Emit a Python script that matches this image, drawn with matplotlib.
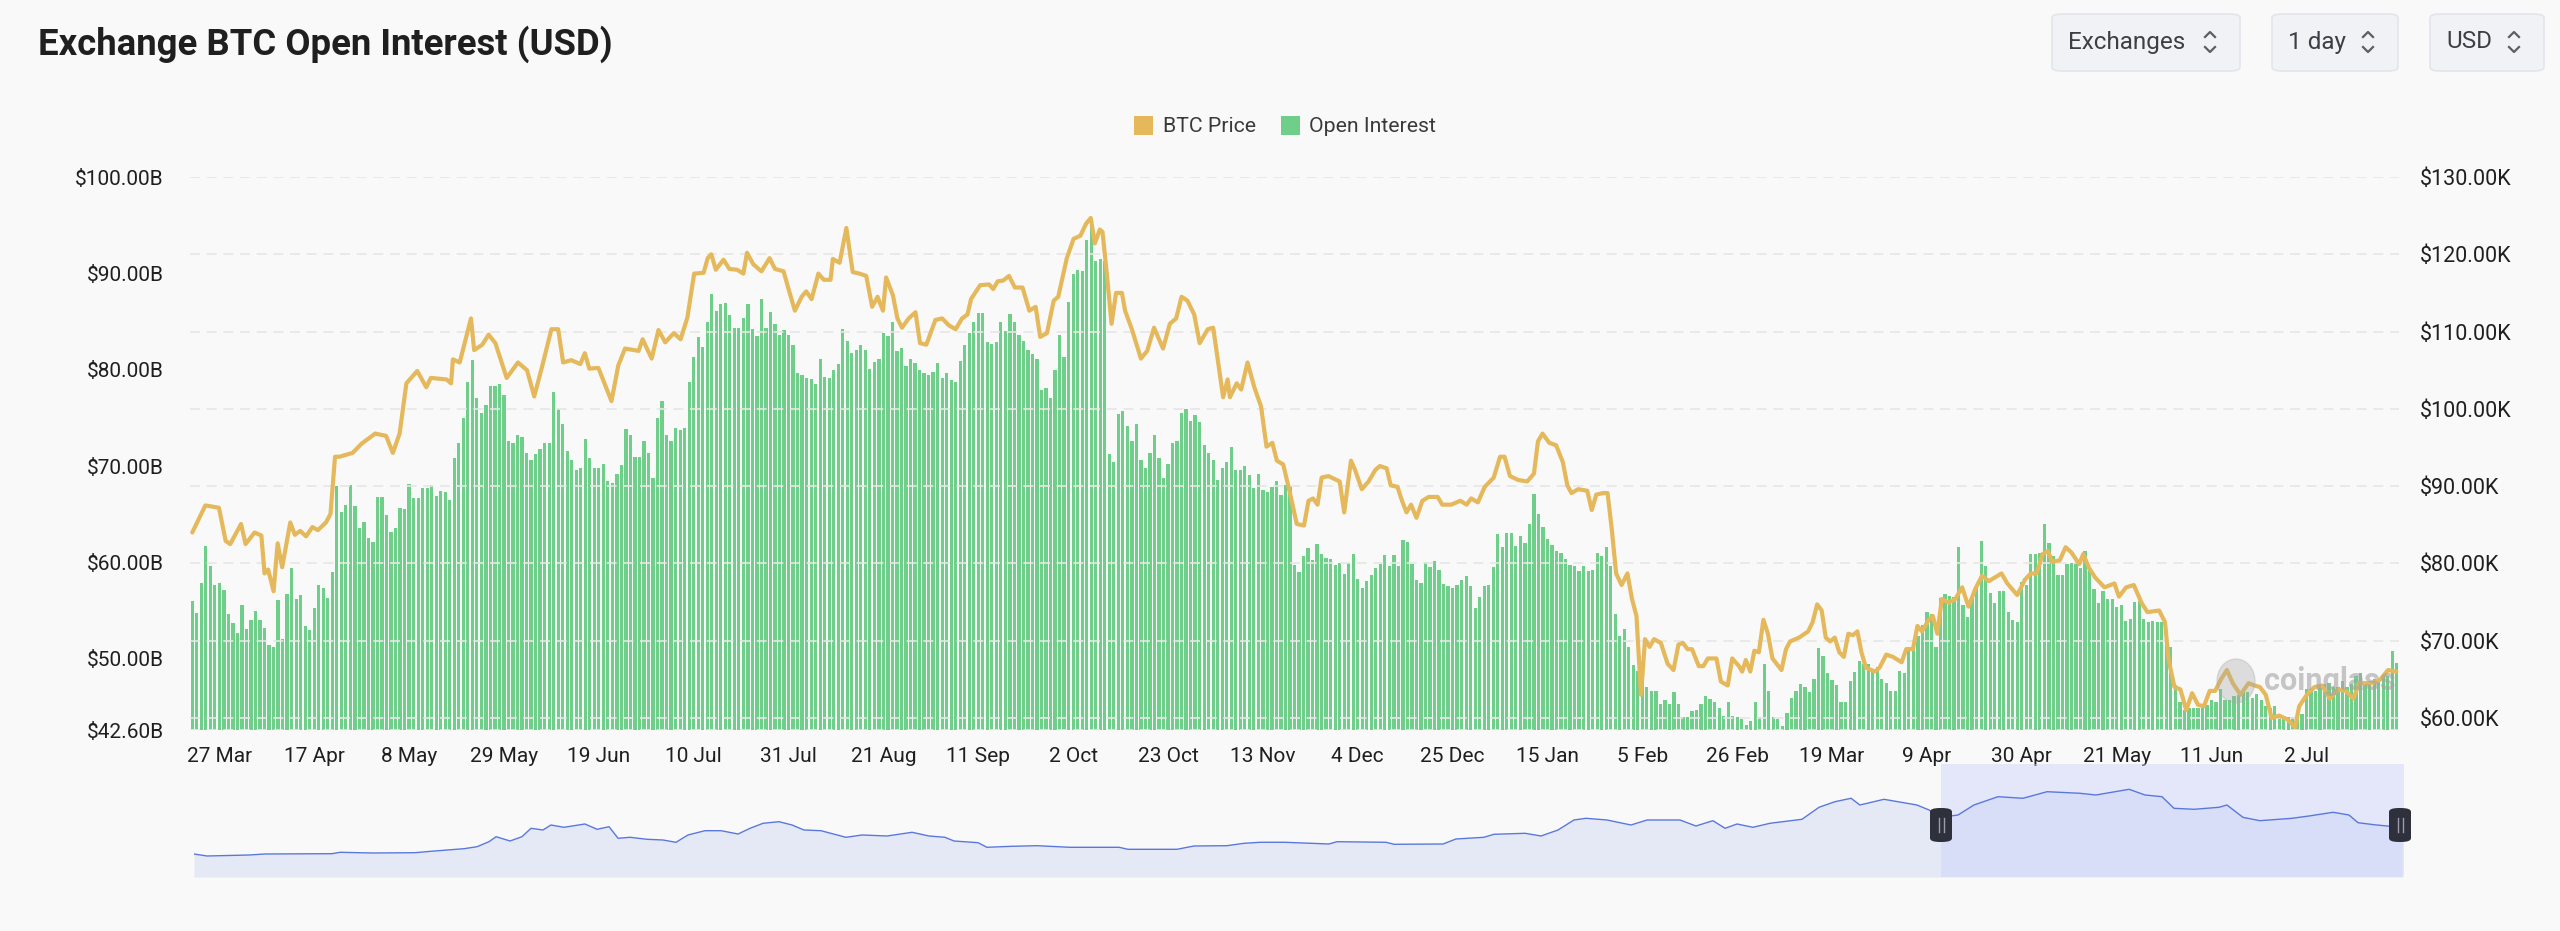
import matplotlib
matplotlib.use("Agg")
import matplotlib.pyplot as plt
from matplotlib.patches import FancyBboxPatch, Rectangle, Ellipse
from matplotlib.lines import Line2D
import numpy as np

W, H = 2560, 931
plt.rcParams['font.family'] = ['Roboto', 'DejaVu Sans']

# ---- data ----
# daily open interest, billions USD, from 21 Mar 2025
oi_a = [56.0, 54.7, 57.9, 61.7, 59.6, 57.7, 57.9, 57.1, 54.6, 53.7, 52.7, 55.6, 53.1, 54.0, 55.0, 54.0,
        53.2, 51.4, 51.2, 56.1, 52.0, 56.7, 59.4, 56.2, 56.6, 53.4, 53.0, 55.3, 57.6, 57.3, 56.3, 59.0,
        67.9, 65.2, 66.0, 68.0, 65.9, 63.6, 64.2, 62.5, 62.1, 66.8, 66.8, 64.9, 63.2, 63.6, 65.6, 65.5,
        68.1, 66.7, 66.7, 67.7, 67.7, 68.0, 66.9, 67.4, 67.3, 66.5, 70.8, 72.4, 75.0, 78.7, 81.0, 77.1,
        75.5, 76.3, 78.3, 78.3, 78.5, 77.4, 72.6, 72.4, 73.2, 73.0, 71.4, 70.6, 71.2, 71.8, 72.4, 72.4,
        77.7, 75.9, 74.4, 71.6, 70.6, 69.6, 69.8, 72.8, 70.8, 69.8, 69.8, 70.2, 68.4, 68.2, 69.2, 70.1,
        73.8, 73.2, 70.9, 70.9, 72.6, 71.4]
oi_b = [68.8, 75.0, 76.7, 73.2, 72.6, 73.9, 73.7, 73.9, 78.7, 81.3, 83.4, 82.4, 85.0, 87.9, 86.1, 86.8,
        86.9, 85.7, 84.3, 84.3, 85.4, 86.8, 84.2, 83.5, 87.3, 84.3, 86.0, 84.7, 83.6, 84.1, 83.6, 82.6,
        79.7, 79.5, 79.1, 79.0, 78.5, 81.1, 79.2, 79.1, 80.0, 80.6, 84.2, 83.0, 81.7, 82.0, 82.6,
        82.0, 80.1, 80.8, 81.1, 83.8, 83.5, 84.9, 81.9, 82.3, 80.4, 81.1, 80.7, 80.0, 79.7, 79.5, 79.8,
        80.7, 79.1, 79.7, 78.9, 78.7, 80.9, 82.6, 83.8, 84.9, 85.9, 85.9, 82.9, 82.7, 82.9, 84.9, 84.0,
        85.8, 84.9, 83.6, 83.0, 82.0, 81.6, 81.1, 77.9, 78.1, 77.1, 80.0, 83.6, 81.3, 87.0, 89.9, 90.3,
        90.2, 93.5, 95.3, 91.3, 91.5, 91.3, 71.2, 70.4, 75.4, 75.7, 74.2, 72.6, 74.4, 70.6, 69.8, 71.4,
        73.2, 70.8, 68.8, 70.2, 72.4, 72.6, 75.5, 75.9, 74.7, 75.3, 74.6, 72.2, 71.4, 70.6, 68.6,
        69.8, 70.4, 72.0, 69.6, 69.6, 70.0, 69.1, 67.7, 69.2, 67.5, 67.3, 67.8, 68.4, 67.0, 68.0, 67.8,
        59.7, 59.0, 60.7, 61.5, 60.2, 61.9, 60.9, 60.5, 60.3, 59.7, 59.9, 58.8, 59.9]
oi_c = [60.9, 58.3, 57.3, 58.1, 58.7, 59.4, 59.8, 60.8, 59.6, 60.8, 59.6, 62.3, 62.1, 59.8, 58.2, 57.9,
        60.0, 59.5, 60.1, 59.2, 57.8, 57.5, 57.3, 57.6, 58.2, 58.6, 57.5, 55.3, 56.4, 57.5, 57.6, 59.5,
        62.9, 61.6, 63.0, 63.0, 61.7, 62.7, 62.0, 64.0, 67.1, 65.0, 63.7, 62.4, 61.8, 61.2, 61.0,
        60.4, 59.7, 59.6, 59.1, 59.6, 59.1, 59.2, 61.0, 60.7, 61.6, 59.6, 54.6, 52.4, 53.1, 51.2, 49.3,
        48.7, 48.7, 47.1, 46.6, 46.6, 45.3, 45.7, 45.3, 46.5, 45.3, 43.9, 44.0, 44.6, 44.7, 45.3, 46.1,
        45.8, 45.5, 44.9, 44.1, 45.5, 44.1, 43.9, 43.7, 43.1, 43.5, 45.5, 43.9, 49.5, 46.7, 43.9, 43.7,
        43.0, 44.4, 45.9, 46.7, 47.4, 47.1, 46.5, 47.9, 51.1, 50.3, 48.5, 47.8, 47.3, 45.5, 45.5, 47.7,
        48.6, 49.8, 49.5, 49.5, 48.6, 49.1, 47.9, 47.5, 46.7, 46.7, 48.7, 48.5, 51.2, 51.4, 52.4,
        53.5, 54.8, 54.6, 51.2, 56.3, 56.7, 56.5, 56.4, 61.6, 55.6, 54.3, 56.3, 57.4, 62.2, 59.6, 56.8,
        55.8]
oi_d = [57.0, 57.0, 54.8, 54.0, 53.8, 58.0, 57.6, 60.9, 60.9, 61.0, 64.0, 62.0, 60.7, 58.7, 58.7, 59.8,
        59.9, 59.9, 59.4, 61.2, 59.2, 57.2, 55.8, 57.0, 56.2, 56.2, 55.4, 55.6, 53.9, 54.1, 55.9, 56.0,
        54.1, 53.8, 53.9, 53.8, 53.8, 52.2, 51.2, 47.3, 45.5, 44.7, 44.9, 44.9, 44.9, 44.9, 45.2, 45.7,
        45.5, 46.9, 45.7, 45.7, 46.1, 46.2, 46.5, 46.5, 45.9, 46.3, 45.7, 45.1, 44.9, 45.1, 44.0, 43.9,
        43.9, 44.0, 44.6, 44.3, 46.9, 46.7, 46.7, 47.1, 47.4, 47.5, 47.1, 47.1, 47.7, 47.1, 47.4, 48.2,
        48.5, 47.5, 47.7, 47.9, 47.9, 48.1, 48.2, 50.8, 49.6]
open_interest = oi_a + oi_b + oi_c + oi_d

# BTC price readings: day offset from 21 Mar 2025, thousands USD
price_day = [0, 2.9, 5.9, 7.4, 8.4, 10.8, 11.8, 13.8, 15.3, 16, 16.8, 18, 18.9, 19.9, 21.7, 22.7, 23.9,
             25.2, 26.6, 27.8, 29.6, 30.6, 31.6, 32.6, 35.5, 37.5, 40.5, 42.9, 44.4, 45.9, 47.4, 49.8,
             51.8, 52.8, 56.3, 57.3, 57.7, 59.2, 61.7, 62.4, 64.2, 65.6, 67.1, 69.6, 72.1, 74.1, 75.7,
             77.5, 79.5, 81, 82.1, 83.9, 85.9, 86.9, 87.9, 89.9, 92.8, 94.3, 95.8, 98.8, 99.7, 101.7,
             103.2, 104.7, 106.6, 108.1, 109.6, 111.1, 113.2, 114.1, 114.9, 115.9, 117.6, 118.9, 120.6,
             122.0, 122.8, 124.2, 126, 127.8, 129, 130.9, 131.9, 133.4, 134.9, 135.9, 137.1, 138.6,
             139.8, 141.3, 141.8, 143.3, 144.8, 146.2, 147.7, 149.2, 150.5, 151.7, 152.9, 153.6, 155.1,
             156.1, 157.1, 158.6, 160.1, 161.1, 162.5, 164.5, 166, 167.5, 169, 170.4, 171.6, 172.4,
             174.4, 176.4, 177.3, 178.3, 179.5, 180.8, 182.1, 183.8, 185.3, 186.7, 187.7, 189.2, 190.7,
             191.7, 193.6, 195.1, 196.6, 197.9, 198.9, 199.8, 200.9, 201.5, 202.5, 203.5, 204.5, 205.8,
             206.5, 208, 210, 211.4, 212.9, 214.9, 216.4, 217.8, 219, 220.3, 221.8, 223, 224.8, 226,
             226.9, 228.2, 229.2, 229.7, 231.2, 232.2, 233.6, 235.1, 236.6, 237.8, 239.1, 240.1, 241.5,
             243, 244.5, 246.1, 247.1, 248.1, 249.1, 250, 251.5, 254, 255, 256.5, 257.4, 258.9, 260.4,
             261.9, 262.9, 264.4, 265.3, 266.8, 267.8, 268.8, 269.8, 271, 272.3, 273.7, 275.7, 276.7,
             278.7, 280.7, 282.1, 283.1, 284.6, 286.1, 288.1, 289.5, 290.5, 291.7, 293.5, 295.5, 297,
             297.9, 298.9, 300.4, 301.9, 303.4, 304.4, 305.3, 306.8, 308.8, 309.8, 310.8, 312.3, 313.3,
             314.2, 315.2, 316.4, 317.7, 318.7, 319.7, 320.7, 321.6, 322.6, 323.6, 325.1, 326.6, 327.9,
             329, 330, 331, 332, 333.5, 334.5, 335.5, 337.4, 338.4, 339.9, 340.9, 342.4, 343.1, 343.9,
             344.9, 345.8, 346.8, 347.8, 348.8, 349.8, 351.8, 352.8, 353.7, 355.7, 357.7, 358.7, 359.7,
             360.7, 361.6, 362.6, 363.6, 364.6, 365.6, 366.6, 367.6, 368.6, 369.5, 370.5, 372.5, 373.5,
             375, 376.5, 378.4, 379.4, 380.9, 381.9, 382.9, 384.4, 385.3, 386.3, 387.3, 388.8, 390.3,
             391.8, 393.2, 394.7, 396.2, 397.7, 400.5, 401.8, 404, 405.7, 407, 408.3, 409.6, 410.8,
             411.7, 413.4, 414.7, 416, 417.7, 418.6, 419.9, 421.2, 423.3, 424.6, 425.5, 426.5, 428.1,
             429.8, 431.5, 432.8, 435.4, 436.7, 437.5, 438.8, 440.1, 441.4, 442.7, 444, 445.3, 446.6,
             447.8, 449.1, 450.4, 451.7, 453.4, 455.2, 456.5, 457.7, 459, 460.3, 462, 463.8, 465.5,
             466.4, 468.1, 469.8, 471.5, 473.2, 475, 476.7, 478.4, 479.7, 481.4, 482.7, 484.4, 486.1,
             487.9]
price_k = [84.0, 87.5, 87.2, 82.9, 82.5, 85.1, 82.5, 84.0, 83.6, 78.7, 79.2, 76.4, 82.6, 79.5, 85.3, 83.7,
           84.2, 83.5, 84.7, 84.3, 85.3, 86.4, 93.8, 93.8, 94.3, 95.5, 96.8, 96.5, 94.3, 96.8, 103.3,
           104.9, 102.8, 104.0, 103.8, 103.3, 106.4, 106.0, 111.7, 107.6, 108.3, 109.6, 108.5, 104.0,
           106.0, 105.0, 101.6, 105.6, 110.3, 110.3, 106.0, 106.3, 105.8, 107.2, 105.2, 105.3, 101.0,
           105.6, 107.8, 107.5, 109.0, 106.5, 110.2, 108.6, 109.8, 109.0, 111.8, 117.5, 117.6, 119.5,
           120.0, 118.0, 119.3, 118.1, 118.0, 117.5, 120.2, 118.7, 117.8, 119.5, 118.1, 117.8, 115.7,
           112.7, 114.5, 115.2, 114.2, 117.5, 116.7, 116.7, 119.4, 118.9, 123.4, 117.7, 117.5, 117.2,
           113.2, 114.5, 112.7, 117.0, 114.7, 111.7, 110.5, 111.7, 112.5, 108.5, 108.3, 111.5, 111.7,
           110.8, 110.3, 111.7, 112.2, 114.2, 116.0, 116.1, 115.5, 116.5, 116.6, 117.2, 115.7, 115.7,
           112.7, 113.2, 109.3, 109.8, 114.0, 114.5, 119.5, 122.0, 122.4, 124.0, 124.7, 121.4, 123.2,
           122.9, 117.2, 111.0, 115.0, 115.0, 112.7, 110.3, 106.5, 107.5, 110.5, 107.8, 111.0, 111.7,
           114.5, 114.0, 112.2, 108.5, 110.3, 110.5, 106.8, 101.5, 103.8, 101.5, 103.3, 102.5, 106.0,
           102.8, 100.3, 95.1, 95.6, 93.3, 92.8, 89.1, 85.1, 84.9, 88.1, 88.4, 87.6, 91.1, 91.3, 90.6,
           86.6, 93.3, 92.1, 89.6, 90.6, 92.1, 92.6, 92.3, 90.1, 89.9, 88.1, 86.6, 87.6, 85.9, 88.1,
           88.6, 88.6, 87.6, 87.6, 88.1, 87.6, 88.4, 87.9, 89.9, 91.1, 93.8, 93.8, 91.3, 90.8, 90.6,
           91.6, 95.8, 96.8, 95.6, 95.3, 93.1, 90.1, 89.1, 89.6, 89.4, 86.9, 88.9, 89.1, 89.1, 84.6,
           78.7, 77.2, 78.7, 75.4, 73.2, 63.0, 70.2, 69.2, 70.2, 69.7, 67.0, 66.2, 69.5, 69.7, 68.9,
           68.9, 66.7, 66.7, 67.7, 67.7, 64.7, 64.2, 67.7, 66.7, 66.0, 67.5, 66.0, 68.7, 68.5, 72.7,
           70.9, 67.7, 66.2, 68.9, 69.9, 70.4, 71.2, 72.4, 74.7, 73.9, 70.4, 69.9, 70.4, 68.5, 67.9,
           70.9, 70.7, 71.2, 68.5, 66.5, 66.0, 66.5, 68.2, 67.9, 67.2, 68.9, 68.9, 71.9, 71.2, 72.7,
           73.2, 70.9, 75.4, 74.9, 75.4, 76.9, 74.4, 76.7, 78.4, 77.7, 78.7, 77.4, 75.9, 77.9, 78.7,
           78.7, 81.2, 81.6, 80.2, 80.4, 82.1, 81.4, 79.9, 81.2, 79.4, 78.2, 76.9, 77.2, 77.4, 75.7,
           76.9, 77.2, 74.9, 73.7, 73.9, 72.4, 67.5, 64.0, 63.7, 61.0, 63.2, 61.7, 61.5, 63.5, 63.5,
           65.0, 66.2, 64.5, 63.0, 64.5, 64.2, 64.0, 63.0, 60.0, 60.3, 59.8, 58.8, 61.5, 63.0, 64.0,
           64.2, 62.5, 63.7, 63.5, 62.5, 64.5, 64.5, 64.5, 65.0, 66.2, 66.0]

tick_labels = ['27 Mar', '17 Apr', '8 May', '29 May', '19 Jun', '10 Jul', '31 Jul', '21 Aug', '11 Sep',
               '2 Oct', '23 Oct', '13 Nov', '4 Dec', '25 Dec', '15 Jan', '5 Feb', '26 Feb', '19 Mar',
               '9 Apr', '30 Apr', '21 May', '11 Jun', '2 Jul']
tick_days = [6 + 21 * i for i in range(len(tick_labels))]

oi_ticks = [42.6, 50, 60, 70, 80, 90, 100]
price_ticks = [60, 70, 80, 90, 100, 110, 120, 130]

# navigator series: position along the full history (per mille) and relative height
nav_t = [0, 5.9, 24.9, 32.1, 62.4, 66.1, 81, 100, 107.2, 122.2, 128.1, 133.5, 136.7, 143, 148.4, 152.5,
         157.9, 161.5, 167.4, 176.9, 182.4, 187.8, 191.9, 197.3, 205, 212.2, 218.1, 223.5, 231.2, 238.5,
         246.2, 251.6, 257.5, 264.7, 270.6, 276, 283.7, 295, 302.3, 313.6, 324.9, 332.6, 339.8, 343.9,
         354.8, 358.8, 370.1, 381.4, 396.4, 418.6, 422.6, 444.8, 452.5, 467.4, 475.1, 482.4, 493.7,
         513.6, 517.2, 539.4, 543, 565.2, 571, 583.7, 588.2, 602.3, 609.5, 617.2, 624.4, 629.9, 639.4,
         650.2, 657.5, 672.4, 679.6, 687.3, 692.8, 698.2, 705.4, 713.1, 727.6, 735.3, 742.5, 749.8,
         753.8, 764.7, 779.6, 785.1, 790.5, 798.2, 805.4, 816.3, 827.6, 838.5, 853.4, 860.6, 875.6,
         882.8, 890.5, 895.9, 905, 916.3, 919.9, 927.1, 934.8, 949.3, 957, 967.9, 975.1, 979.2, 986.4,
         993.7, 999.1]
nav_vals = [23, 21, 22, 23, 23.3, 24.7, 24, 24.3, 25.7, 28.3, 30.3, 35.3, 40.3, 36, 40.3, 48.7, 47, 52,
            49.7, 53, 47.7, 50.3, 38.7, 39.7, 37.7, 37, 34.7, 42, 46.3, 46.3, 43, 48.7, 53.7, 55.3, 52,
            47, 46.3, 39.7, 42, 41, 44.7, 41, 39.7, 36, 34.3, 29.7, 30.7, 31.3, 29.7, 29.7, 27.7, 27.7,
            31, 31.3, 33.7, 34.7, 34.7, 33, 35.3, 34.7, 32.7, 33, 38, 39.7, 42.7, 43.7, 41, 47, 57, 58.7,
            57, 52, 57, 57, 51, 56.3, 48.7, 53, 49.7, 53.7, 57.7, 69.7, 75.3, 78.7, 72, 77.7, 72, 67,
            59.7, 62, 72, 80.3, 78.7, 85.3, 83.7, 82, 87.7, 82, 80.3, 68.7, 67.7, 69.7, 72, 59.7, 56.3,
            58.7, 61, 64.7, 62, 54.3, 52.3, 50.7, 53.7]
nav_sel = (790.5, 1000)

# ---- colours ----
BG = '#f9f9f9'
GREEN = '#6fce89'
GOLD = '#e5b95b'
TXT = '#1f1f1f'


def fx(px):
    return px / W


def fy(py):
    return 1 - py / H


fig = plt.figure(figsize=(W / 100, H / 100), dpi=100, facecolor=BG)

n_days = len(open_interest)

# main axes
ax = fig.add_axes([fx(190), fy(730), fx(2399) - fx(190), fy(177) - fy(730)])
ax.set_facecolor(BG)
ax.bar(np.arange(n_days), open_interest, width=0.72, color=GREEN, linewidth=0, zorder=2)
ax.set_xlim(-0.5, n_days - 0.5)
ax.set_ylim(42.6, 100)
ax.set_yticks(oi_ticks)
ax.set_yticklabels(['$%.2fB' % v for v in oi_ticks])
ax.set_xticks(tick_days)
ax.set_xticklabels(tick_labels)
ax.tick_params(axis='both', length=0, labelsize=15, colors=TXT)
ax.tick_params(axis='x', pad=12)
ax.tick_params(axis='y', pad=19)
for s in ax.spines.values():
    s.set_visible(False)

ax2 = ax.twinx()
ax2.set_ylim(58.44, 130)
ax2.set_yticks(price_ticks)
ax2.set_yticklabels(['$%.2fK' % v for v in price_ticks])
ax2.tick_params(axis='y', length=0, labelsize=15.5, colors=TXT, pad=15)
ax2.grid(axis='y', color='#e6e6e6', linestyle=(0, (6, 4)), linewidth=1.2, zorder=0)
ax2.set_axisbelow(True)
for s in ax2.spines.values():
    s.set_visible(False)
ax2.plot(price_day, price_k, color=GOLD, linewidth=3.0, solid_joinstyle='round',
         solid_capstyle='round', zorder=5)
ax2.axhline(58.44, color='#e6e6e6', linestyle=(0, (6, 4)), linewidth=1.2, zorder=0)

# watermark
fig.text(fx(2264), fy(681), 'coinglass', fontsize=22, fontweight='bold', color='#a3a3a3',
         alpha=0.6, va='center', ha='left')
fig.patches.append(Ellipse((fx(2236), fy(681)), fx(38), 44 / H, transform=fig.transFigure,
                           color='#a8a8a8', alpha=0.35))

# title
fig.text(fx(38), fy(44), 'Exchange BTC Open Interest (USD)', fontsize=26.3, fontweight='bold',
         color=TXT, va='center', ha='left')

# selector buttons
for (x0, x1, label) in [(2052, 2240, 'Exchanges'), (2272, 2398, '1 day'), (2430, 2544, 'USD')]:
    box = FancyBboxPatch((fx(x0), fy(71)), fx(x1) - fx(x0), fy(14) - fy(71),
                         boxstyle='round,pad=0,rounding_size=0.004', transform=fig.transFigure,
                         facecolor='#f0f2f5', edgecolor='#e2e5ea', linewidth=1.2)
    fig.patches.append(box)
    fig.text(fx(x0 + 16), fy(42), label, fontsize=17.5, color='#3c3f45', va='center', ha='left')
    cx = x1 - 30
    fig.lines.append(Line2D([fx(cx - 5), fx(cx), fx(cx + 5)], [fy(37), fy(32), fy(37)],
                            transform=fig.transFigure, color='#5a5e66', linewidth=1.6))
    fig.lines.append(Line2D([fx(cx - 5), fx(cx), fx(cx + 5)], [fy(47), fy(52), fy(47)],
                            transform=fig.transFigure, color='#5a5e66', linewidth=1.6))

# legend
fig.patches.append(Rectangle((fx(1134), fy(135)), fx(19), 19 / H, transform=fig.transFigure,
                             color=GOLD, linewidth=0))
fig.text(fx(1163), fy(126), 'BTC Price', fontsize=15.3, color='#3a3a3a', va='center', ha='left')
fig.patches.append(Rectangle((fx(1281), fy(135)), fx(19), 19 / H, transform=fig.transFigure,
                             color=GREEN, linewidth=0))
fig.text(fx(1309), fy(126), 'Open Interest', fontsize=15.3, color='#3a3a3a', va='center', ha='left')

# navigator
nav = fig.add_axes([fx(194), fy(877), fx(2404) - fx(194), fy(764) - fy(877)])
nav.set_facecolor(BG)
nav.fill_between(nav_t, 0, nav_vals, color='#e5e9f5', linewidth=0)
nav.plot(nav_t, nav_vals, color='#5a78dc', linewidth=1.0)
nav.axvspan(nav_sel[0], nav_sel[1], color='#c9d2fa', alpha=0.45, linewidth=0)
nav.set_xlim(0, 1000)
nav.set_ylim(0, 113)
nav.axis('off')

for hx in (1941, 2400):
    hb = FancyBboxPatch((fx(hx - 11), fy(842)), fx(22), 34 / H, boxstyle='round,pad=0,rounding_size=0.004',
                        transform=fig.transFigure, facecolor='#2e303c', edgecolor='none')
    fig.patches.append(hb)
    for dx in (-2.5, 2.5):
        fig.lines.append(Line2D([fx(hx + dx), fx(hx + dx)], [fy(818), fy(832)], transform=fig.transFigure,
                                color='#9a9cab', linewidth=1))

fig.savefig('out.png', dpi=100, facecolor=BG)
